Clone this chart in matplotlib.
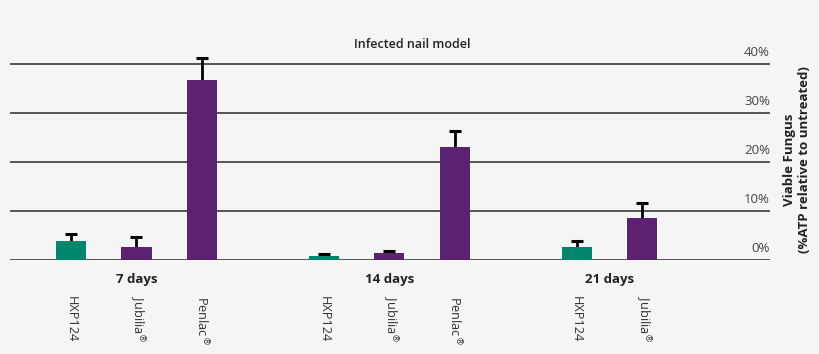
import numpy as np
import matplotlib
matplotlib.use("Agg")
import matplotlib.pyplot as plt
import matplotlib.transforms as mtransforms

# ------------------------------
# Data
# ------------------------------
groups = ["7 days", "14 days", "21 days"]
products = [
    ["HXP124", "Jubilia$^{®}$", "Penlac$^{®}$"],
    ["HXP124", "Jubilia$^{®}$", "Penlac$^{®}$"],
    ["HXP124", "Jubilia$^{®}$"],
]
values = [
    [3.9, 2.7, 36.7],
    [0.8, 1.4, 23.1],
    [2.7, 8.6],
]
errors = [
    [1.4, 1.9, 4.5],
    [0.5, 0.5, 3.2],
    [1.2, 3.0],
]
yticks = [0, 10, 20, 30, 40]
ytick_labels = ["0%", "10%", "20%", "30%", "40%"]

TEAL = "#00866e"
PURPLE = "#5c2170"
BG = "#f5f5f5"

plt.rcParams["font.family"] = ["Open Sans", "DejaVu Sans"]

fig = plt.figure(figsize=(8.2, 3.54), dpi=100, facecolor=BG)
ax = fig.add_axes([10 / 820, 1 - 260 / 354, 760 / 820, 205.8 / 354])
ax.set_facecolor(BG)

group_step = 3.86
xs, ys, es, labels, colors, centers = [], [], [], [], [], []
for g, (names, vals, errs) in enumerate(zip(products, values, errors)):
    pos = [g * group_step + i for i in range(len(vals))]
    xs += pos
    ys += vals
    es += errs
    labels += names
    colors += [TEAL if n.startswith("HXP") else PURPLE for n in names]
    centers.append(np.mean(pos))

xs = np.array(xs)
ys = np.array(ys)
es = np.array(es)

# gridlines
for t in yticks:
    ax.axhline(t, color="#555555", lw=1.4, zorder=1)

ax.bar(xs, ys, width=0.46, color=colors, zorder=3)
ax.vlines(xs, ys, ys + es, color="black", lw=2, zorder=2)
ax.plot(xs, ys + es, ls="none", marker="_", ms=8, mew=2.2, color="black", zorder=2)

ax.set_xlim(-0.93, 10.67)
ax.set_ylim(0, 42)
for s in ax.spines.values():
    s.set_visible(False)
ax.set_yticks([])

ax.set_xticks(xs)
ax.set_xticklabels(labels, rotation=270, fontsize=9.2, color="#333333",
                   va="top", ha="center")
ax.tick_params(axis="x", length=0, pad=26)

# y tick labels on right, above gridlines
trans = mtransforms.blended_transform_factory(ax.transAxes, ax.transData)
for t, lab in zip(yticks, ytick_labels):
    ax.text(1.0, t + 1.0, lab, transform=trans, ha="right", va="bottom",
            fontsize=9.5, color="#444444")

# group labels
trans_g = mtransforms.blended_transform_factory(ax.transData, fig.transFigure)
for c, g in zip(centers, groups):
    ax.text(c, 1 - 280 / 354, g, transform=trans_g, ha="center", va="center",
            fontsize=9.5, fontweight="bold", color="#222222")

fig.text(412 / 820, 1 - 45 / 354, "Infected nail model", ha="center", va="center",
         fontsize=9, fontweight="semibold", color="#222222")

fig.text(797 / 820, 1 - 160 / 354, "Viable Fungus\n(%ATP relative to untreated)",
         rotation=90, ha="center", va="center", fontsize=9.5,
         fontweight="bold", color="#222222", linespacing=1.2)

fig.savefig("out.png", dpi=100, facecolor=BG)
